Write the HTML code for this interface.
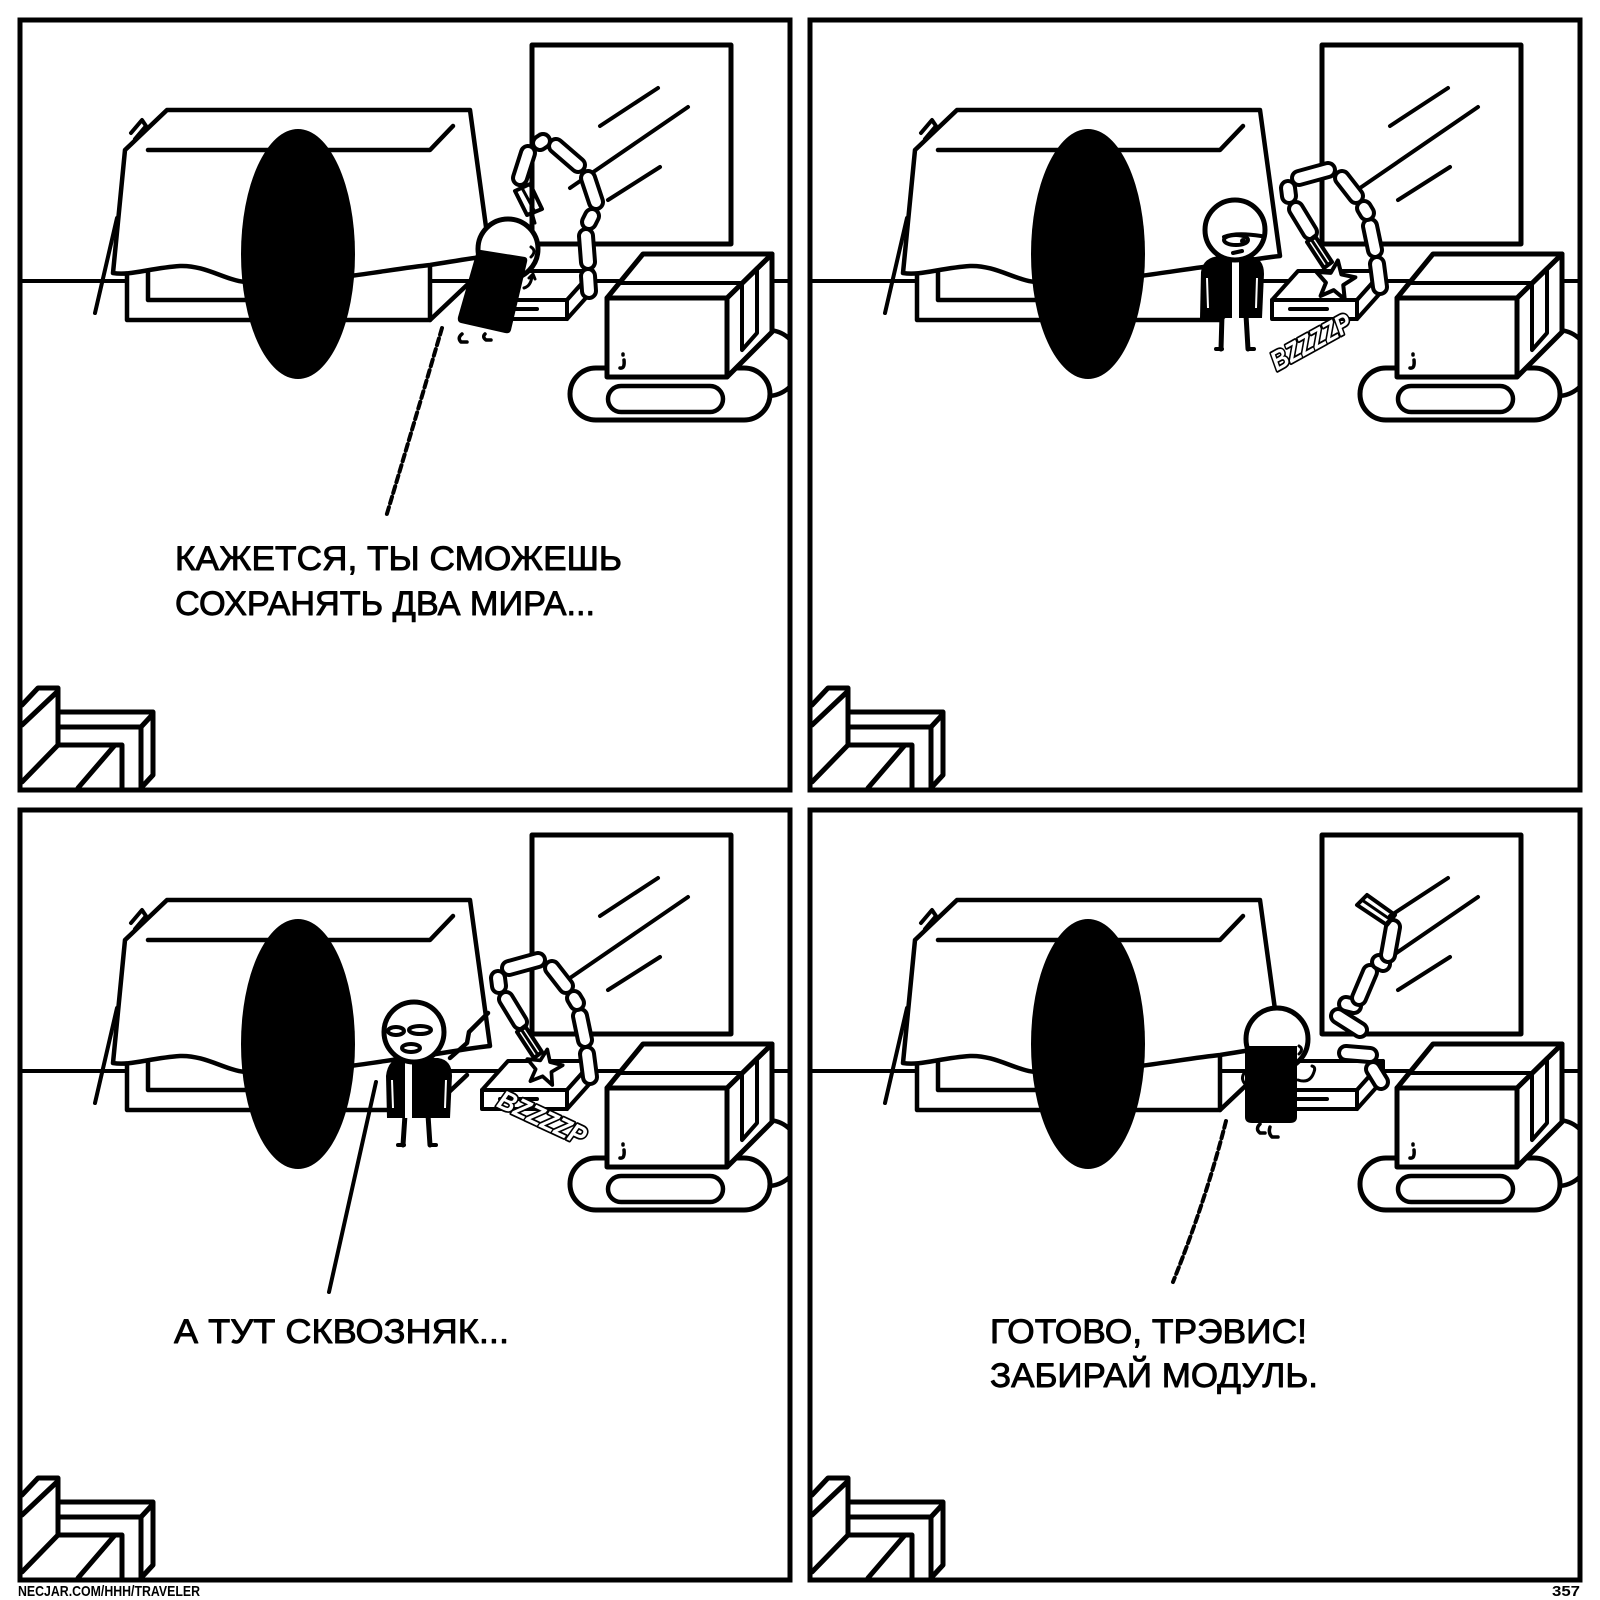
<!DOCTYPE html>
<html><head><meta charset="utf-8"><style>
html,body{margin:0;padding:0;background:#fff;}
svg{display:block}
text{font-family:"Liberation Sans","DejaVu Sans",sans-serif;}
</style></head><body>
<svg width="1600" height="1600" viewBox="0 0 1600 1600" xmlns="http://www.w3.org/2000/svg">
<defs>
<clipPath id="cp"><rect x="20" y="20" width="770" height="770"/></clipPath>
<g id="bg" fill="none" stroke="#000" stroke-width="5" stroke-linecap="round" stroke-linejoin="round">
 <line x1="20" y1="281" x2="790" y2="281" stroke-width="4"/>
 <rect x="532" y="45" width="199" height="199" fill="#fff"/>
 <line x1="600" y1="126" x2="658" y2="88" stroke-width="4"/>
 <line x1="570" y1="188" x2="688" y2="107" stroke-width="4"/>
 <line x1="608" y1="200" x2="660" y2="167" stroke-width="4"/>
 <rect x="127" y="263" width="303" height="57" fill="#fff" stroke-width="4.5"/>
 <path d="M148,270 V300 H260" stroke-width="4.5"/>
 <line x1="430" y1="320" x2="467" y2="285" stroke-width="4.5"/>
 <path d="M167,110 L470,110 L490,256 C470,258 450,262 430,265 C410,267 380,272 350,276 L245,282 C225,280 205,265 180,266 C150,268 130,276 113,273 L125,150 Z" fill="#fff" stroke-width="4.5"/>
 <path d="M148,150 H430 L453,126" stroke-width="4.5"/>
 <path d="M131,133 L142,120 L146,126 L135,139" stroke-width="4"/>
 <line x1="95" y1="313" x2="117" y2="218" stroke-width="4"/>
 <ellipse cx="298" cy="254" rx="57" ry="125" fill="#000" stroke="none"/>
 <path d="M482,300 L508,271 L593,271 L567,300 Z" fill="#fff" stroke-width="4"/>
 <path d="M567,300 L593,271 L593,290 L567,319 Z" fill="#fff" stroke-width="4"/>
 <rect x="482" y="300" width="85" height="19" fill="#fff" stroke-width="4"/>
 <line x1="500" y1="309" x2="537" y2="309" stroke-width="4"/>
 <rect x="690" y="330" width="110" height="66" rx="33" fill="#fff" stroke-width="4.5"/>
 <rect x="570" y="368" width="200" height="52" rx="26" fill="#fff" stroke-width="5"/>
 <rect x="608" y="386" width="115" height="26" rx="13" fill="#fff" stroke-width="4.5"/>
 <path d="M727,298 L772,254 L772,332 L727,377 Z" fill="#fff"/>
 <path d="M607,298 L643,254 L772,254 L727,298 Z" fill="#fff"/>
 <path d="M620,283 H742" stroke-width="4"/>
 <path d="M742,283 L757,268 L757,333 L742,350 Z" stroke-width="4"/>
 <rect x="607" y="298" width="120" height="79" fill="#fff"/>
 <path d="M623,354 v1 M624,360 q1,9 -4,8" stroke-width="3.5"/>
 <path d="M22,705 L38,688 L58,688 L58,745 M58,691 L22,725 M58,712 H153 V775 M58,727 H141 V788 M141,727 L153,714 M141,788 L153,775 M58,745 H122 V788 M58,745 L22,782 M115,745 L78,788"/>
</g>
<path id="star" d="M0,-18 L4.7,-6.5 L17.1,-5.6 L7.6,2.5 L10.6,14.6 L0,8 L-10.6,14.6 L-7.6,2.5 L-17.1,-5.6 L-4.7,-6.5 Z"/>
</defs>
<style>
.k{stroke:#000;stroke-width:18;stroke-linecap:round;fill:none}
.w{stroke:#fff;stroke-width:10;stroke-linecap:round;fill:none}
.s{stroke:#000;fill:none;stroke-linecap:round;stroke-linejoin:round}
.bz{font-weight:bold;font-style:italic;font-size:27px;fill:#fff;stroke:#000;stroke-width:3.5;paint-order:stroke;stroke-linejoin:round}
.tx{font-size:34px;fill:#000;stroke:#000;stroke-width:0.9;stroke-linejoin:round}
</style>

<!-- PANEL 1 -->
<g>
 <g clip-path="url(#cp)">
  <use href="#bg"/>
  <line class="k" x1="589" y1="291" x2="588" y2="276"/><line class="w" x1="589" y1="291" x2="588" y2="276"/>
  <line class="k" x1="588" y1="262" x2="586" y2="236"/><line class="w" x1="588" y1="262" x2="586" y2="236"/>
  <line class="k" x1="589" y1="222" x2="592" y2="216"/><line class="w" x1="589" y1="222" x2="592" y2="216"/>
  <line class="k" x1="596" y1="202" x2="588" y2="178"/><line class="w" x1="596" y1="202" x2="588" y2="178"/>
  <line class="k" x1="578" y1="165" x2="556" y2="146"/><line class="w" x1="578" y1="165" x2="556" y2="146"/>
  <line class="k" x1="543" y1="141" x2="540" y2="143"/><line class="w" x1="543" y1="141" x2="540" y2="143"/>
  <line class="k" x1="528" y1="153" x2="520" y2="178"/><line class="w" x1="528" y1="153" x2="520" y2="178"/>
  <path d="M515,191 L530,184 L542,209 L527,215 Z" fill="#fff" class="s" stroke-width="4"/>
  <path d="M522,188 L535,212" class="s" stroke-width="3"/>
  <path d="M533,216 l2,7" class="s" stroke-width="3"/>
  <circle cx="508" cy="249" r="30" fill="#fff" stroke="#000" stroke-width="5"/>
  <path d="M481,250 L525,257 Q528,258 527,262 L511,330 Q510,334 505,333 L461,323 Q457,322 458,317 L476,254 Q477,250 481,250 Z" fill="#000"/>
  <path d="M531,247 q6,4 0,10" class="s" stroke-width="3"/>
  <path d="M524,288 q7,-2 8,-12 M529,278 l4,-4 l2,5" class="s" stroke-width="3"/>
  <path d="M462,334 q-5,4 -1,8 h6 M485,334 q-3,3 1,6 h5" class="s" stroke-width="3.5"/>
  <path d="M442,328 Q418,410 386,517" class="s" stroke-width="4" stroke-dasharray="7 4" stroke-linecap="butt"/>
 </g>
 <rect x="20" y="20" width="770" height="770" fill="none" stroke="#000" stroke-width="5"/>
</g>

<!-- PANEL 2 -->
<g transform="translate(790,0)">
 <g clip-path="url(#cp)">
  <use href="#bg"/>
  <line class="k" x1="590" y1="287" x2="587" y2="264"/><line class="w" x1="590" y1="287" x2="587" y2="264"/>
  <line class="k" x1="585" y1="250" x2="580" y2="226"/><line class="w" x1="585" y1="250" x2="580" y2="226"/>
  <line class="k" x1="577" y1="213" x2="574" y2="208"/><line class="w" x1="577" y1="213" x2="574" y2="208"/>
  <line class="k" x1="566" y1="196" x2="552" y2="178"/><line class="w" x1="566" y1="196" x2="552" y2="178"/>
  <line class="k" x1="538" y1="170" x2="509" y2="178"/><line class="w" x1="538" y1="170" x2="509" y2="178"/>
  <line class="k" x1="498" y1="188" x2="499" y2="196"/><line class="w" x1="498" y1="188" x2="499" y2="196"/>
  <line class="k" x1="506" y1="209" x2="520" y2="232"/><line class="w" x1="506" y1="209" x2="520" y2="232"/>
  <path d="M525,236 L542,262 L534,268 L517,242 Z" fill="#fff" class="s" stroke-width="4"/>
  <line x1="521" y1="239" x2="538" y2="265" class="s" stroke-width="3"/>
  <use href="#star" transform="translate(545,281) rotate(8) scale(1.15)" fill="#fff" stroke="#000" stroke-width="3.5" stroke-linejoin="round"/>
  <line x1="432" y1="315" x2="431" y2="349" class="s" stroke-width="5"/>
  <line x1="456" y1="315" x2="458" y2="349" class="s" stroke-width="5"/>
  <path d="M426,349 h6 M458,349 h6" class="s" stroke-width="4"/>
  <path d="M411,272 Q413,257 430,256 L460,256 Q474,258 474,274 L472,318 L410,318 Z" fill="#000"/>
  <rect x="442" y="262" width="7" height="56" fill="#fff"/>
  <path d="M417,278 L418,308 M467,278 L466,308" stroke="#fff" stroke-width="2" fill="none"/>
  <circle cx="445" cy="230" r="30" fill="#fff" stroke="#000" stroke-width="5"/>
  <ellipse cx="446" cy="240" rx="12" ry="5" fill="#fff" stroke="#000" stroke-width="4"/>
  <path d="M434,237 Q446,232 471,236" class="s" stroke-width="4"/>
  <circle cx="453" cy="241" r="3" fill="#000"/>
  <path d="M443,253 L452,251" class="s" stroke-width="4"/>
  <text class="bz" transform="translate(521,342) rotate(-29)" x="0" y="9" text-anchor="middle" textLength="88" lengthAdjust="spacingAndGlyphs">BZZZZP</text>
 </g>
 <rect x="20" y="20" width="770" height="770" fill="none" stroke="#000" stroke-width="5"/>
</g>

<!-- PANEL 3 -->
<g transform="translate(0,790)">
 <g clip-path="url(#cp)">
  <use href="#bg"/>
  <line class="k" x1="590" y1="287" x2="587" y2="264"/><line class="w" x1="590" y1="287" x2="587" y2="264"/>
  <line class="k" x1="585" y1="250" x2="580" y2="226"/><line class="w" x1="585" y1="250" x2="580" y2="226"/>
  <line class="k" x1="577" y1="213" x2="574" y2="208"/><line class="w" x1="577" y1="213" x2="574" y2="208"/>
  <line class="k" x1="566" y1="196" x2="552" y2="178"/><line class="w" x1="566" y1="196" x2="552" y2="178"/>
  <line class="k" x1="538" y1="170" x2="509" y2="178"/><line class="w" x1="538" y1="170" x2="509" y2="178"/>
  <line class="k" x1="498" y1="188" x2="499" y2="196"/><line class="w" x1="498" y1="188" x2="499" y2="196"/>
  <line class="k" x1="506" y1="209" x2="520" y2="232"/><line class="w" x1="506" y1="209" x2="520" y2="232"/>
  <path d="M525,236 L542,262 L534,268 L517,242 Z" fill="#fff" class="s" stroke-width="4"/>
  <line x1="521" y1="239" x2="538" y2="265" class="s" stroke-width="3"/>
  <use href="#star" transform="translate(544,278) rotate(10) scale(1.05)" fill="#fff" stroke="#000" stroke-width="3.5" stroke-linejoin="round"/>
  <line x1="405" y1="325" x2="403" y2="355" class="s" stroke-width="5"/>
  <line x1="428" y1="325" x2="430" y2="355" class="s" stroke-width="5"/>
  <path d="M398,355 h6 M430,355 h6" class="s" stroke-width="4"/>
  <path d="M450,268 L467,253 L469,242 L488,223" class="s" stroke-width="4.5"/>
  <path d="M386,286 Q388,268 403,268 L438,268 Q452,270 452,286 L450,328 L387,328 Z" fill="#000"/>
  <rect x="405" y="272" width="7" height="56" fill="#fff"/>
  <path d="M392,290 L393,318 M446,290 L445,318" stroke="#fff" stroke-width="2" fill="none"/>
  <circle cx="414" cy="242" r="30" fill="#fff" stroke="#000" stroke-width="5"/>
  <ellipse cx="396" cy="241" rx="8" ry="4" fill="#fff" stroke="#000" stroke-width="4"/>
  <ellipse cx="420" cy="240" rx="11" ry="4" fill="#fff" stroke="#000" stroke-width="4"/>
  <ellipse cx="411" cy="258" rx="9" ry="4" fill="#fff" stroke="#000" stroke-width="4"/>
  <path d="M376,292 Q352,400 329,502" class="s" stroke-width="4"/>
  <text class="bz" transform="translate(542,328) rotate(25)" x="0" y="9" text-anchor="middle" textLength="94" lengthAdjust="spacingAndGlyphs">BZZZZP</text>
 </g>
 <rect x="20" y="20" width="770" height="770" fill="none" stroke="#000" stroke-width="5"/>
</g>

<!-- PANEL 4 -->
<g transform="translate(790,790)">
 <g clip-path="url(#cp)">
  <use href="#bg"/>
  <line class="k" x1="591" y1="292" x2="583" y2="279"/><line class="w" x1="591" y1="292" x2="583" y2="279"/>
  <line class="k" x1="580" y1="265" x2="556" y2="263"/><line class="w" x1="580" y1="265" x2="556" y2="263"/>
  <line class="k" x1="570" y1="240" x2="548" y2="226"/><line class="w" x1="570" y1="240" x2="548" y2="226"/>
  <line class="k" x1="556" y1="214" x2="564" y2="216"/><line class="w" x1="556" y1="214" x2="564" y2="216"/>
  <line class="k" x1="569" y1="208" x2="580" y2="182"/><line class="w" x1="569" y1="208" x2="580" y2="182"/>
  <line class="k" x1="589" y1="172" x2="593" y2="174"/><line class="w" x1="589" y1="172" x2="593" y2="174"/>
  <line class="k" x1="598" y1="165" x2="603" y2="137"/><line class="w" x1="598" y1="165" x2="603" y2="137"/>
  <path d="M567,115 L577,105 L605,125 L597,135 Z" fill="#fff" class="s" stroke-width="4"/>
  <line x1="572" y1="110" x2="601" y2="130" class="s" stroke-width="3"/>
  <circle cx="487" cy="249" r="31" fill="#fff" stroke="#000" stroke-width="5"/>
  <path d="M455,256 H507 V327 Q507,333 500,333 H462 Q455,333 455,327 Z" fill="#000"/>
  <path d="M509,256 q5,3 0,8" class="s" stroke-width="3"/>
  <path d="M508,290 q12,4 16,-8 q2,-5 -2,-6" class="s" stroke-width="3"/>
  <path d="M455,282 q-5,6 0,12" class="s" stroke-width="3"/>
  <path d="M470,334 q-5,5 0,9 h5 M480,337 q-2,6 2,10 h6" class="s" stroke-width="3.5"/>
  <path d="M436,331 Q416,410 383,492" class="s" stroke-width="4" stroke-dasharray="7 4" stroke-linecap="butt"/>
 </g>
 <rect x="20" y="20" width="770" height="770" fill="none" stroke="#000" stroke-width="5"/>
</g>

<text class="tx" x="175" y="570" textLength="447" lengthAdjust="spacingAndGlyphs">КАЖЕТСЯ, ТЫ СМОЖЕШЬ</text>
<text class="tx" x="175" y="615" textLength="420" lengthAdjust="spacingAndGlyphs">СОХРАНЯТЬ ДВА МИРА...</text>
<text class="tx" x="174" y="1343" textLength="335" lengthAdjust="spacingAndGlyphs">А ТУТ СКВОЗНЯК...</text>
<text class="tx" x="990" y="1343" textLength="317" lengthAdjust="spacingAndGlyphs">ГОТОВО, ТРЭВИС!</text>
<text class="tx" x="990" y="1387" textLength="328" lengthAdjust="spacingAndGlyphs">ЗАБИРАЙ МОДУЛЬ.</text>

<text x="18" y="1596" font-size="15" font-weight="bold" textLength="182" lengthAdjust="spacingAndGlyphs" fill="#000">NECJAR.COM/HHH/TRAVELER</text>
<text x="1552" y="1596" font-size="15" font-weight="bold" textLength="28" lengthAdjust="spacingAndGlyphs" fill="#000">357</text>
</svg>
</body></html>
